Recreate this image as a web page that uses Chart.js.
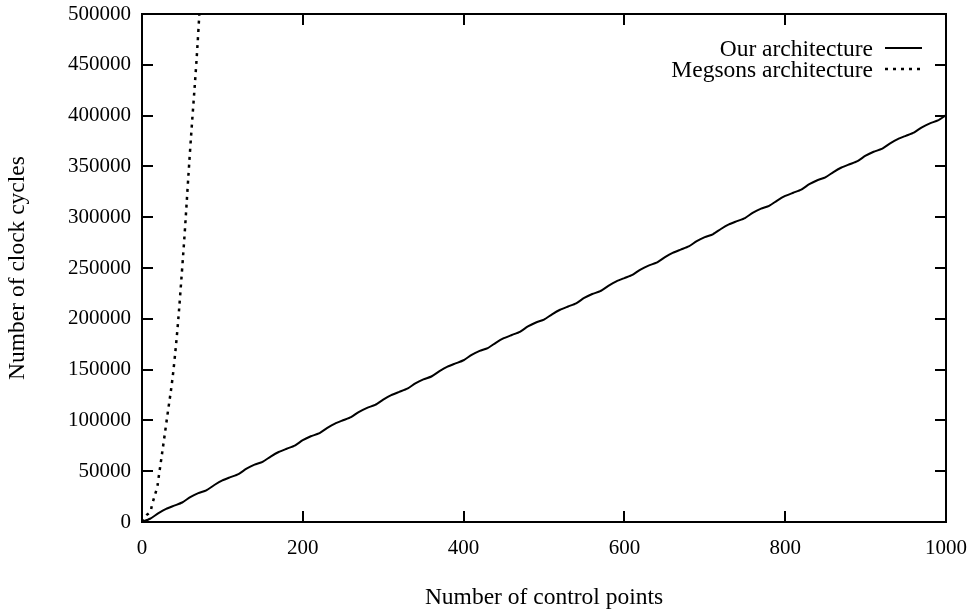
<!DOCTYPE html>
<html>
<head>
<meta charset="utf-8">
<script src="https://cdn.jsdelivr.net/npm/chart.js@4/dist/chart.umd.min.js"></script>
<style>
html,body{margin:0;padding:0;background:#fff;}
#wrap{width:978px;height:612px;position:relative;}
</style>
</head>
<body>
<div id="wrap"><canvas id="c" width="978" height="612"></canvas></div>
<script>
// ---- data ----
const ourX = [0,10,20,30,40,50,60,70,80,90,100,110,120,130,140,150,160,170,180,190,200,
  210,220,230,240,250,260,270,280,290,300,310,320,330,340,350,360,370,380,390,400,
  410,420,430,440,450,460,470,480,490,500,510,520,530,540,550,560,570,580,590,600,
  610,620,630,640,650,660,670,680,690,700,710,720,730,740,750,760,770,780,790,800,
  810,820,830,840,850,860,870,880,890,900,910,920,930,940,950,960,970,980,990,1000];
const ourCycles = [0,3200,8400,12900,16100,19200,24500,28400,31200,36400,40900,44100,47200,52500,56400,59200,64400,68900,72100,75200,80500,
  84400,87200,92400,96900,100100,103200,108500,112400,115200,120400,124900,128100,131200,136500,140400,143200,148400,152900,156100,159200,
  164500,168400,171200,176400,180900,184100,187200,192500,196400,199200,204400,208900,212100,215200,220500,224400,227200,232400,236900,240100,
  243200,248500,252400,255200,260400,264900,268100,271200,276500,280400,283200,288400,292900,296100,299200,304500,308400,311200,316400,320900,
  324100,327200,332500,336400,339200,344400,348900,352100,355200,360500,364400,367200,372400,376900,380100,383200,388500,392400,395200,400400];
const megX = [0,5,10,13,19,20,30,40,50,60,70,80];
const megCycles = [0,6200,10000,18400,34700,40000,96000,156000,250000,368000,482000,635000];
const seriesLabels = ["Our architecture","Megsons architecture"];
const xTicks = [0,200,400,600,800,1000];
const yTicks = [0,50000,100000,150000,200000,250000,300000,350000,400000,450000,500000];

const FONT = "Liberation Serif";
const pts = (xs, ys) => xs.map((x,i)=>({x:x,y:ys[i]}));

const framePlugin = {
  id:'frame',
  afterDatasetsDraw(chart){
    const {ctx, chartArea:a, scales:{x,y}} = chart;
    ctx.save();
    ctx.strokeStyle='#000'; ctx.lineWidth=2; ctx.setLineDash([]);
    ctx.strokeRect(a.left, a.top, a.right-a.left, a.bottom-a.top);
    const L = 11;
    ctx.beginPath();
    yTicks.forEach(v=>{
      const py = Math.round(y.getPixelForValue(v));
      ctx.moveTo(a.left, py); ctx.lineTo(a.left+L, py);
      ctx.moveTo(a.right, py); ctx.lineTo(a.right-L, py);
    });
    xTicks.forEach(v=>{
      const px = Math.round(x.getPixelForValue(v));
      ctx.moveTo(px, a.bottom); ctx.lineTo(px, a.bottom-L);
      ctx.moveTo(px, a.top); ctx.lineTo(px, a.top+L);
    });
    ctx.stroke();
    // legend (text left, sample right)
    ctx.font = '23.5px "'+FONT+'"';
    ctx.fillStyle='#000';
    ctx.textAlign='right'; ctx.textBaseline='middle';
    const rows = [50, 71];
    chart.data.datasets.forEach((ds,i)=>{
      const ty = rows[i];
      ctx.fillText(ds.label, 873, ty);
      ctx.beginPath();
      ctx.lineWidth = ds.borderWidth;
      ctx.setLineDash(ds.borderDash || []);
      ctx.moveTo(885, ty-2); ctx.lineTo(922, ty-2);
      ctx.stroke();
    });
    ctx.restore();
  }
};

new Chart(document.getElementById('c'), {
  type:'line',
  data:{
    datasets:[
      {label:seriesLabels[0], data:pts(ourX, ourCycles), borderColor:'#000', borderWidth:2, pointRadius:0, tension:0.2, fill:false},
      {label:seriesLabels[1], data:pts(megX, megCycles), borderColor:'#000', borderWidth:2.5, borderDash:[3,5], pointRadius:0, tension:0.4, fill:false}
    ]
  },
  options:{
    responsive:false, animation:false, maintainAspectRatio:false,
    layout:{padding:{left:0, right:32, top:14, bottom:0}},
    plugins:{legend:{display:false}, tooltip:{enabled:false}},
    scales:{
      x:{type:'linear', min:0, max:1000,
        afterBuildTicks(s){ s.ticks = xTicks.map(v=>({value:v})); },
        afterFit(s){ s.height = 90; s.paddingLeft = 0; s.paddingRight = 0; },
        grid:{display:false, drawTicks:false}, border:{display:false},
        ticks:{color:'#000', padding:14, maxRotation:0, font:{family:FONT, size:21}, callback:v=>String(v)},
        title:{display:true, text:'Number of control points', color:'#000', font:{family:FONT, size:23.5}, padding:{top:0,bottom:0}}
      },
      y:{type:'linear', min:0, max:500000,
        afterBuildTicks(s){ s.ticks = yTicks.map(v=>({value:v})); },
        afterFit(s){ s.width = 142; s.paddingTop = 0; s.paddingBottom = 0; },
        grid:{display:false, drawTicks:false}, border:{display:false},
        ticks:{color:'#000', padding:11, font:{family:FONT, size:21}, callback:v=>String(v)},
        title:{display:true, text:'Number of clock cycles', color:'#000', font:{family:FONT, size:23.5}, padding:{top:4,bottom:0}}
      }
    }
  },
  plugins:[framePlugin]
});
</script>
</body>
</html>
